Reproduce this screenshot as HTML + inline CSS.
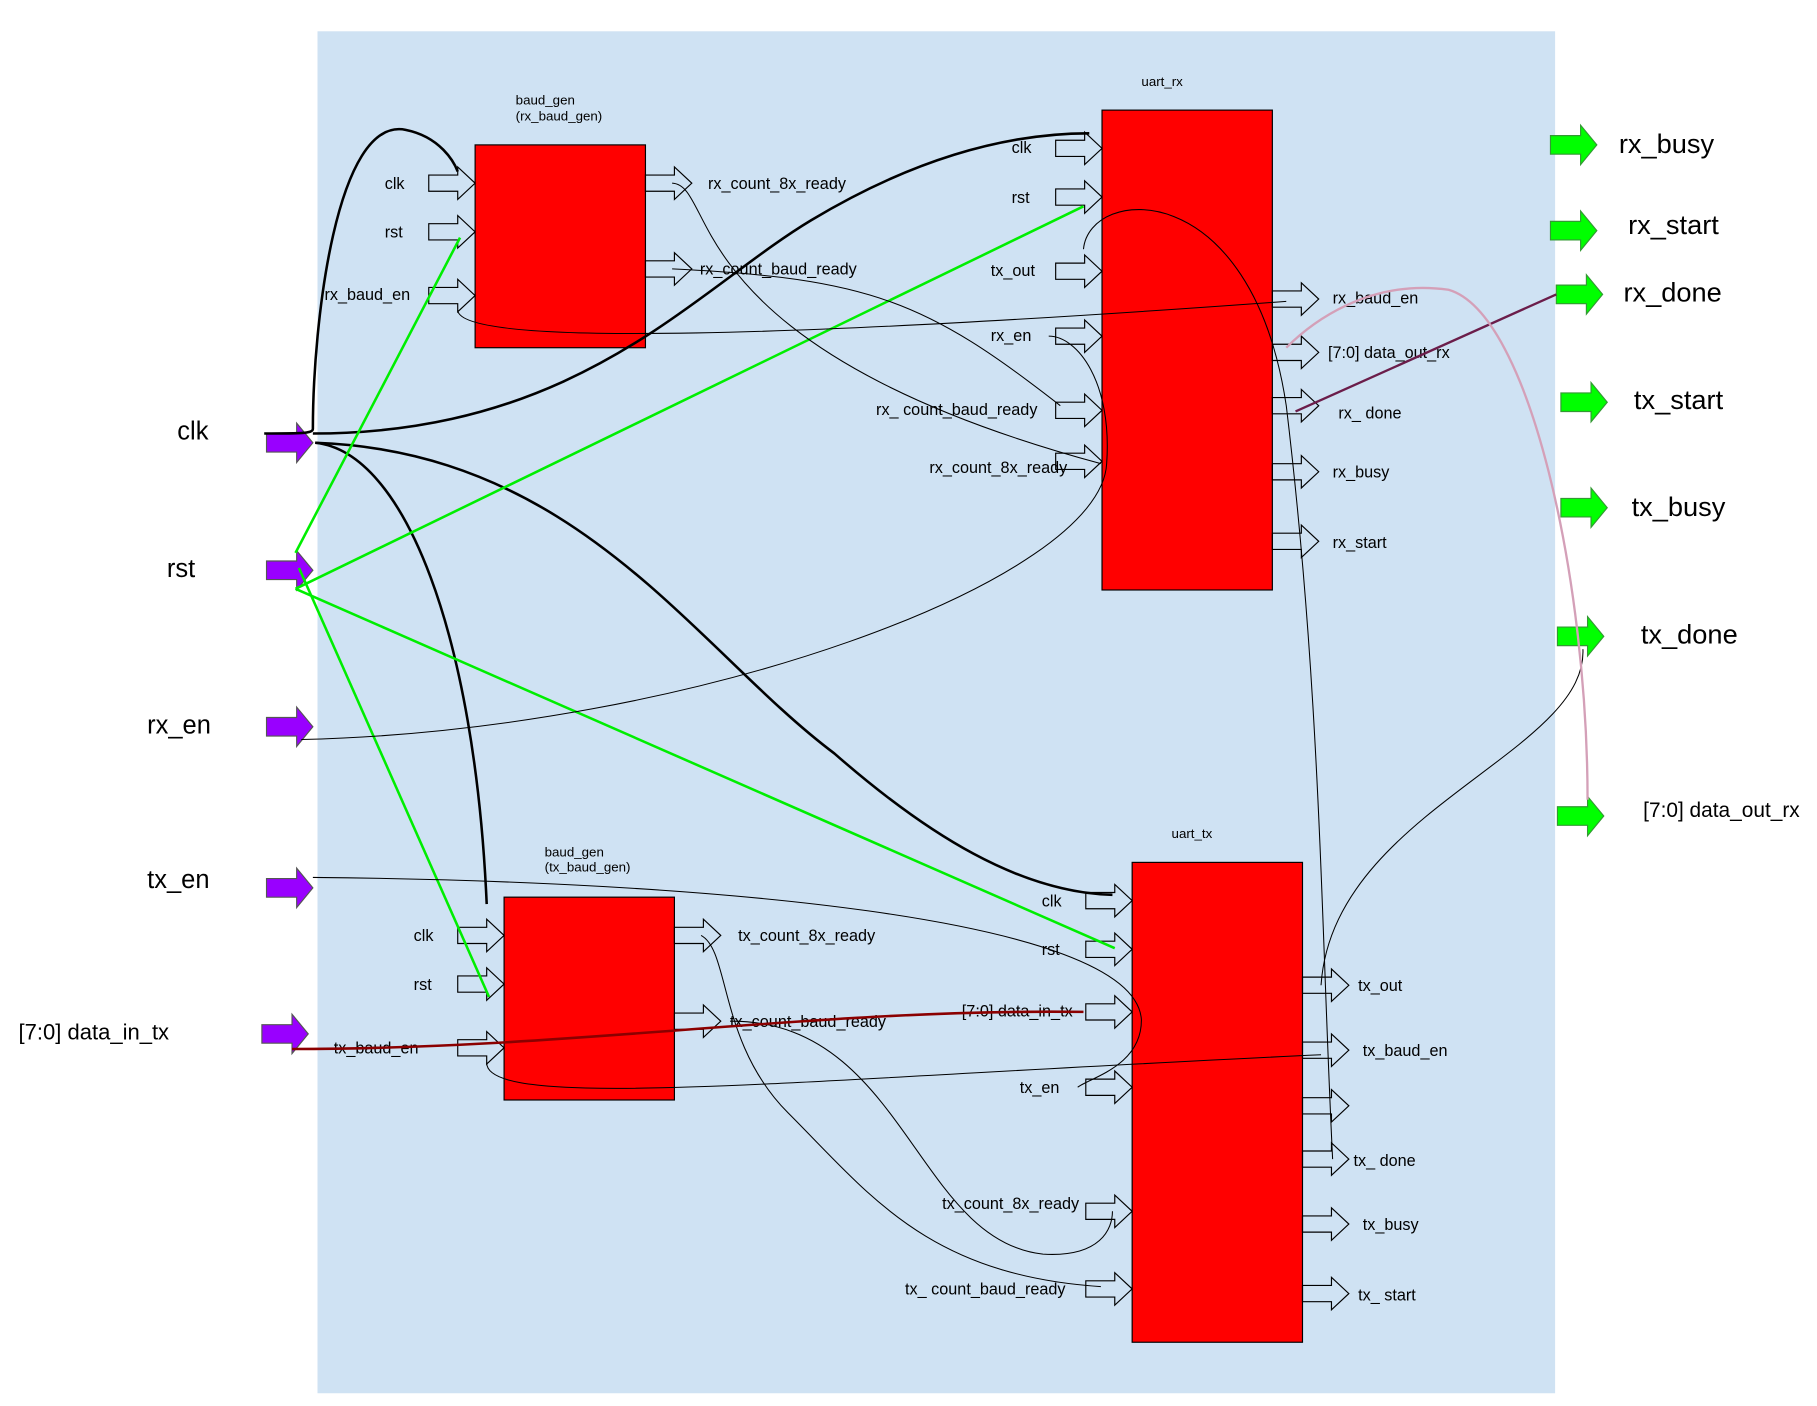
<!DOCTYPE html>
<html><head><meta charset="utf-8"><style>html,body{margin:0;padding:0;background:#fff}svg{display:block}text{font-family:"Liberation Sans",sans-serif}</style></head>
<body>
<svg width="1817" height="1406" viewBox="0 0 1568 1213" preserveAspectRatio="none" xmlns="http://www.w3.org/2000/svg">
<defs>
<path id="ha" d="M0,-7 H25 V-14 L40,0 L25,14 V7 H0 Z" fill="none" stroke="#000" stroke-width="1"/>
<path id="pa" d="M0,-8 H26 V-17 L40,0 L26,17 V8 H0 Z" fill="#9900ff" stroke="#555" stroke-width="1"/>
<path id="ga" d="M0,-8 H26 V-17 L40,0 L26,17 V8 H0 Z" fill="#00ff00" stroke="#393" stroke-width="1"/>
</defs>
<rect x="274" y="27" width="1068" height="1175" fill="#cfe2f3"/>
<rect x="410" y="125" width="147" height="175" fill="#f00" stroke="#000"/>
<rect x="951" y="95" width="147" height="414" fill="#f00" stroke="#000"/>
<rect x="435" y="774" width="147" height="175" fill="#f00" stroke="#000"/>
<rect x="977" y="744" width="147" height="414" fill="#f00" stroke="#000"/>
<g font-size="11.5">
<text x="445" y="90">baud_gen</text><text x="445" y="104">(rx_baud_gen)</text>
<text x="985" y="74">uart_rx</text>
<text x="470" y="739">baud_gen</text><text x="470" y="752">(tx_baud_gen)</text>
<text x="1011" y="723">uart_tx</text>
</g>
<g>
<use href="#ha" x="370" y="158"/><use href="#ha" x="370" y="200"/><use href="#ha" x="370" y="255"/>
<use href="#ha" x="557" y="158"/><use href="#ha" x="557" y="232"/>
<use href="#ha" x="911" y="128"/><use href="#ha" x="911" y="170"/><use href="#ha" x="911" y="234"/><use href="#ha" x="911" y="290"/><use href="#ha" x="911" y="354"/><use href="#ha" x="911" y="398"/>
<use href="#ha" x="1098" y="258"/><use href="#ha" x="1098" y="304"/><use href="#ha" x="1098" y="350"/><use href="#ha" x="1098" y="407"/><use href="#ha" x="1098" y="467"/>
<use href="#ha" x="395" y="807"/><use href="#ha" x="395" y="849"/><use href="#ha" x="395" y="904"/>
<use href="#ha" x="582" y="807"/><use href="#ha" x="582" y="881"/>
<use href="#ha" x="937" y="777"/><use href="#ha" x="937" y="819"/><use href="#ha" x="937" y="873"/><use href="#ha" x="937" y="938"/><use href="#ha" x="937" y="1045"/><use href="#ha" x="937" y="1112"/>
<use href="#ha" x="1124" y="850"/><use href="#ha" x="1124" y="906"/><use href="#ha" x="1124" y="954"/><use href="#ha" x="1124" y="1000"/><use href="#ha" x="1124" y="1056"/><use href="#ha" x="1124" y="1116"/>
</g>
<g font-size="14">
<text x="332" y="163">clk</text><text x="332" y="205">rst</text><text x="280" y="259">rx_baud_en</text>
<text x="611" y="163">rx_count_8x_ready</text><text x="604" y="237">rx_count_baud_ready</text>
<text x="873" y="132">clk</text><text x="873" y="175">rst</text><text x="855" y="238">tx_out</text><text x="855" y="294">rx_en</text>
<text x="756" y="358">rx_ count_baud_ready</text><text x="802" y="408">rx_count_8x_ready</text>
<text x="1150" y="262">rx_baud_en</text><text x="1146" y="309">[7:0] data_out_rx</text><text x="1155" y="361">rx_ done</text><text x="1150" y="412">rx_busy</text><text x="1150" y="473">rx_start</text>
<text x="357" y="812">clk</text><text x="357" y="854">rst</text><text x="288" y="909">tx_baud_en</text>
<text x="637" y="812">tx_count_8x_ready</text><text x="630" y="886">tx_count_baud_ready</text>
<text x="899" y="782">clk</text><text x="899" y="824">rst</text><text x="830" y="877">[7:0] data_in_tx</text><text x="880" y="943">tx_en</text>
<text x="813" y="1043">tx_count_8x_ready</text><text x="781" y="1117">tx_ count_baud_ready</text>
<text x="1172" y="855">tx_out</text><text x="1176" y="911">tx_baud_en</text><text x="1168" y="1006">tx_ done</text><text x="1176" y="1061">tx_busy</text><text x="1172" y="1122">tx_ start</text>
</g>
<use href="#pa" x="230" y="382"/><use href="#pa" x="230" y="492"/><use href="#pa" x="230" y="627"/><use href="#pa" x="230" y="766"/><use href="#pa" x="226" y="892"/>
<g font-size="22"><text x="153" y="379">clk</text><text x="144" y="498">rst</text><text x="127" y="633">rx_en</text><text x="127" y="766">tx_en</text><text x="16" y="897" font-size="19">[7:0] data_in_tx</text></g>
<use href="#ga" x="1338" y="125"/><use href="#ga" x="1338" y="199"/><use href="#ga" x="1343" y="254"/><use href="#ga" x="1347" y="347"/><use href="#ga" x="1347" y="438"/><use href="#ga" x="1344" y="549"/><use href="#ga" x="1344" y="704"/>
<g font-size="23.5"><text x="1397" y="132">rx_busy</text><text x="1405" y="202">rx_start</text><text x="1401" y="260">rx_done</text><text x="1410" y="353">tx_start</text><text x="1408" y="445">tx_busy</text><text x="1416" y="555">tx_done</text><text x="1418" y="705" font-size="18">[7:0] data_out_rx</text></g>
<g fill="none" stroke="#000" stroke-width="2.2">
<path d="M228,374 C260,374 270,374 270,370 C270,280 290,100 350,112 C380,118 392,140 395,148"/>
<path d="M270,374 C500,374 600,250 700,190 C800,130 880,115 940,115"/>
<path d="M272,382 C350,390 410,550 420,780"/>
<path d="M272,382 C500,390 600,560 720,650 C800,720 880,770 960,772"/>
</g>
<g fill="none" stroke="#00ee00" stroke-width="2.2">
<path d="M255,477 L397,205"/><path d="M255,508 L935,178"/><path d="M255,508 L962,818"/><path d="M258,490 L422,860"/>
</g>
<g fill="none" stroke="#000" stroke-width="0.9">
<path d="M395,268 C400,300 700,290 1110,260"/>
<path d="M580,158 C620,160 580,300 950,400"/>
<path d="M580,232 C750,240 800,260 915,350"/>
<path d="M260,638 C600,630 950,500 955,400 C960,330 930,290 905,290"/>
<path d="M935,215 C940,160 1080,150 1110,350 C1140,600 1140,800 1150,1000"/>
<path d="M270,757 C600,760 980,790 985,880 C985,920 940,930 930,938"/>
<path d="M420,917 C420,960 700,930 1140,910"/>
<path d="M605,807 C630,820 620,900 680,960 C750,1030 800,1100 950,1110"/>
<path d="M630,881 C780,880 790,1070 900,1082 C950,1085 960,1060 960,1045"/>
<path d="M1140,850 C1150,700 1370,650 1366,560"/>
</g>
<path d="M252,905 C500,905 700,870 935,873" fill="none" stroke="#8b0000" stroke-width="2.2"/>
<path d="M1118,355 L1343,254" fill="none" stroke="#6b1d4a" stroke-width="2"/>
<path d="M1110,300 C1130,280 1180,240 1250,250 C1320,270 1370,500 1370,690" fill="none" stroke="#d4a0b8" stroke-width="2"/>
</svg>
</body></html>
